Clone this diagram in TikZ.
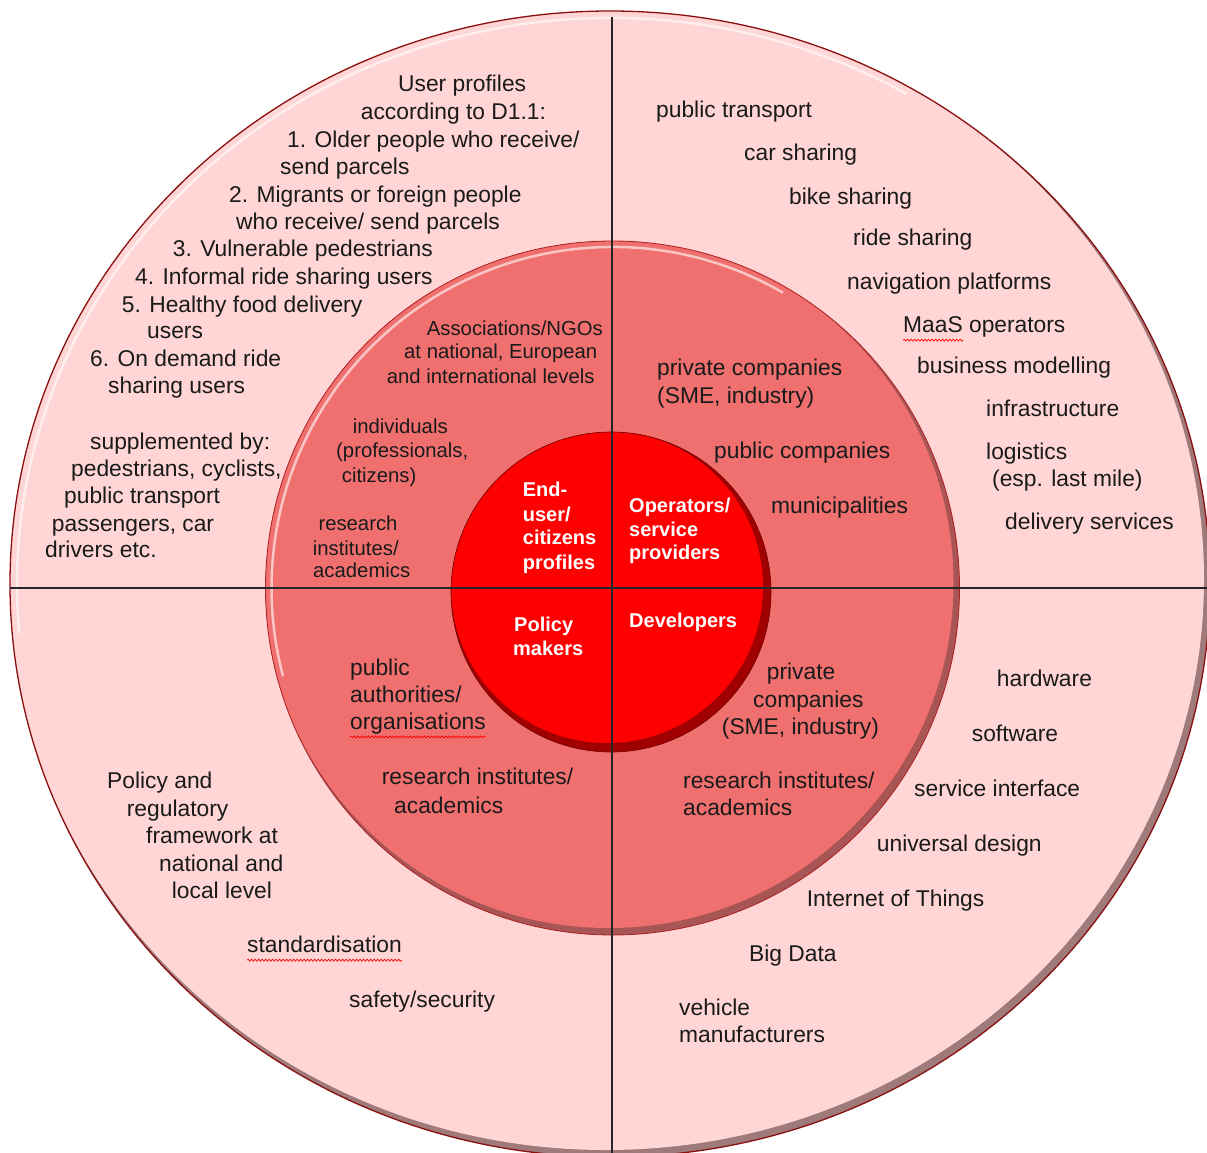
\documentclass[tikz,border=0pt]{standalone}
\usepackage{fontspec}
\setmainfont{Liberation Sans}
\usetikzlibrary{decorations.pathmorphing}
\definecolor{ringOuter}{HTML}{FFD5D5}
\definecolor{ringMid}{HTML}{F07070}
\definecolor{ringCore}{HTML}{FF0000}
\definecolor{shadeOuter}{HTML}{9E7A7A}
\definecolor{shadeMid}{HTML}{A85555}
\definecolor{shadeCore}{HTML}{A00000}
\definecolor{rimOuter}{HTML}{8B1010}
\definecolor{rimMid}{HTML}{B02020}
\definecolor{rimCore}{HTML}{700000}
\definecolor{inkText}{HTML}{1A1A1A}

\tikzset{
    txt/.style={inner sep=0pt, anchor=west, yshift=-2pt, text=inkText, font=\fontsize{22.8}{27}\selectfont, text height=16pt, text depth=5pt},
    txtsmall/.style={txt, font=\fontsize{20.3}{24}\selectfont, text height=14.5pt, text depth=4.5pt},
    core/.style={txtsmall, yshift=1pt, text=white, font=\bfseries\fontsize{20}{24}\selectfont},
    glow/.style={white, line width=2.5pt, opacity=0.6},
    spell/.style={red, line width=0.7pt, decorate, decoration={snake, amplitude=1pt, segment length=3.5pt}},
}

\begin{document}
\begin{tikzpicture}[x=1pt,y=-1pt]
    \useasboundingbox (0,0) rectangle (1207,1153);
    \coordinate (oc) at (610,584);
    \coordinate (mc) at (612.5,588);
    \coordinate (ic) at (611,592);

    % outer ring
    \fill[shadeOuter] (oc) ellipse[x radius=600pt, y radius=573pt];
    \begin{scope}
        \clip (oc) ellipse[x radius=600pt, y radius=573pt];
        \fill[ringOuter] ([xshift=-4pt,yshift=5pt]oc) ellipse[x radius=598pt, y radius=571pt];
    \end{scope}
    \draw[glow] (oc) ++(60:593pt and 566pt) arc[start angle=60, end angle=185, x radius=593pt, y radius=566pt];
    \draw[rimOuter, line width=1.3pt] (oc) ellipse[x radius=600pt, y radius=573pt];

    % middle ring
    \fill[shadeMid] (mc) circle[radius=347pt];
    \begin{scope}
        \clip (mc) circle[radius=347pt];
        \fill[ringMid] ([xshift=-4pt,yshift=5pt]mc) circle[radius=345pt];
    \end{scope}
    \draw[glow] (mc) ++(60:341pt) arc[start angle=60, end angle=195, radius=341pt];
    \draw[rimMid, line width=0.8pt] (mc) circle[radius=347pt];

    % core
    \fill[shadeCore] (ic) circle[radius=160pt];
    \begin{scope}
        \clip (ic) circle[radius=160pt];
        \fill[ringCore] ([xshift=-4pt,yshift=5pt]ic) circle[radius=156pt];
    \end{scope}
    \draw[rimCore, line width=0.6pt] (ic) circle[radius=160pt];

    % quadrant lines
    \draw[black!85, line width=1.4pt] (612,17) -- (612,1153);
    \draw[black!85, line width=1.4pt] (10,588) -- (1207,588);

    % end-user quadrant, outer
    \node[txt] (ul1) at (398,84) {User profiles};
    \node[txt] (ul2) at (360.7,111.7) {according to D1.1:};
    \node[txt] (ul3) at (287,140) {1. Older people who receive/};
    \node[txt] (ul4) at (280,166.7) {send parcels};
    \node[txt] (ul5) at (229,195) {2. Migrants or foreign people};
    \node[txt] (ul6) at (236,221.7) {who receive/ send parcels};
    \node[txt] (ul7) at (172.7,248.5) {3. Vulnerable pedestrians};
    \node[txt] (ul8) at (135,276.7) {4. Informal ride sharing users};
    \node[txt] (ul9) at (121.7,305) {5. Healthy food delivery};
    \node[txt] (ul10) at (147,330.7) {users};
    \node[txt] (ul11) at (90,359) {6. On demand ride};
    \node[txt] (ul12) at (108,386) {sharing users};
    \node[txt] (sup1) at (90,441.7) {supplemented by:};
    \node[txt] (sup2) at (71,469) {pedestrians, cyclists,};
    \node[txt] (sup3) at (64,496) {public transport};
    \node[txt] (sup4) at (51.7,524) {passengers, car};
    \node[txt] (sup5) at (45,550) {drivers etc.};

    % end-user quadrant, middle
    \node[txtsmall] (asso1) at (426.7,328) {Associations/NGOs};
    \node[txtsmall] (asso2) at (404,351.7) {at national, European};
    \node[txtsmall] (asso3) at (386.7,376) {and international levels};
    \node[txtsmall] (indi1) at (352.7,426) {individuals};
    \node[txtsmall] (indi2) at (336,450.7) {(professionals,};
    \node[txtsmall] (indi3) at (341.7,475) {citizens)};
    \node[txtsmall] (resu1) at (318.3,523) {research};
    \node[txtsmall] (resu2) at (312.7,548) {institutes/};
    \node[txtsmall] (resu3) at (313,570.7) {academics};

    % core labels
    \node[core] (endu1) at (522.7,490.7) {End-};
    \node[core] (endu2) at (522.7,515) {user/};
    \node[core] (endu3) at (522.7,538) {citizens};
    \node[core] (endu4) at (522.7,563) {profiles};
    \node[core] (oper1) at (629,506) {Operators/};
    \node[core] (oper2) at (629,530) {service};
    \node[core] (oper3) at (629,553) {providers};
    \node[core] (poli1) at (514,625) {Policy};
    \node[core] (poli2) at (513,649) {makers};
    \node[core] (deve) at (629,621) {Developers};

    % operators quadrant
    \node[txt] (op1) at (656,110) {public transport};
    \node[txt] (op2) at (744,153) {car sharing};
    \node[txt] (op3) at (789,197) {bike sharing};
    \node[txt] (op4) at (853,238) {ride sharing};
    \node[txt] (op5) at (847,282) {navigation platforms};
    \node[txt] (maas) at (903,325) {MaaS operators};
    \node[txt] (op7) at (917,366) {business modelling};
    \node[txt] (op8) at (986,409) {infrastructure};
    \node[txt] (op9) at (986,452) {logistics};
    \node[txt] (op10) at (992,479) {(esp. last mile)};
    \node[txt] (op11) at (1005,522) {delivery services};
    \node[txt] (opm1) at (657,368) {private companies};
    \node[txt] (opm2) at (657,396) {(SME, industry)};
    \node[txt] (opm3) at (714,451) {public companies};
    \node[txt] (opm4) at (771,506) {municipalities};

    % developers quadrant
    \node[txt] (dvm1) at (766.7,671.7) {private};
    \node[txt] (dvm2) at (753,700) {companies};
    \node[txt] (dvm3) at (721.7,726.7) {(SME, industry)};
    \node[txt] (dvm4) at (683,780.7) {research institutes/};
    \node[txt] (dvm5) at (683,808) {academics};
    \node[txt] (dv1) at (996.7,679) {hardware};
    \node[txt] (dv2) at (971.7,734) {software};
    \node[txt] (dv3) at (914,789) {service interface};
    \node[txt] (dv4) at (876.7,844) {universal design};
    \node[txt] (dv5) at (806.7,898.5) {Internet of Things};
    \node[txt] (dv6) at (749,954) {Big Data};
    \node[txt] (dv7) at (679,1008) {vehicle};
    \node[txt] (dv8) at (679,1035) {manufacturers};

    % policy quadrant
    \node[txt] (pmm1) at (350,668) {public};
    \node[txt] (pmm2) at (350,695) {authorities/};
    \node[txt] (orga) at (350,721.7) {organisations};
    \node[txt] (pmm4) at (381.7,777) {research institutes/};
    \node[txt] (pmm5) at (394,805.7) {academics};
    \node[txt] (pm1) at (107,780.7) {Policy and};
    \node[txt] (pm2) at (126.7,809) {regulatory};
    \node[txt] (pm3) at (146,836) {framework at};
    \node[txt] (pm4) at (159,864) {national and};
    \node[txt] (pm5) at (171.7,890.7) {local level};
    \node[txt] (stan) at (247,945) {standardisation};
    \node[txt] (pm7) at (349,1000) {safety/security};

    % spelling marks
    \draw[spell] ([yshift=-2.5pt]maas.south west) -- ++(60,0);
    \draw[spell] ([yshift=-2.5pt]orga.south west) -- ([yshift=-2.5pt]orga.south east);
    \draw[spell] ([yshift=-2.5pt]stan.south west) -- ([yshift=-2.5pt]stan.south east);
\end{tikzpicture}
\end{document}
